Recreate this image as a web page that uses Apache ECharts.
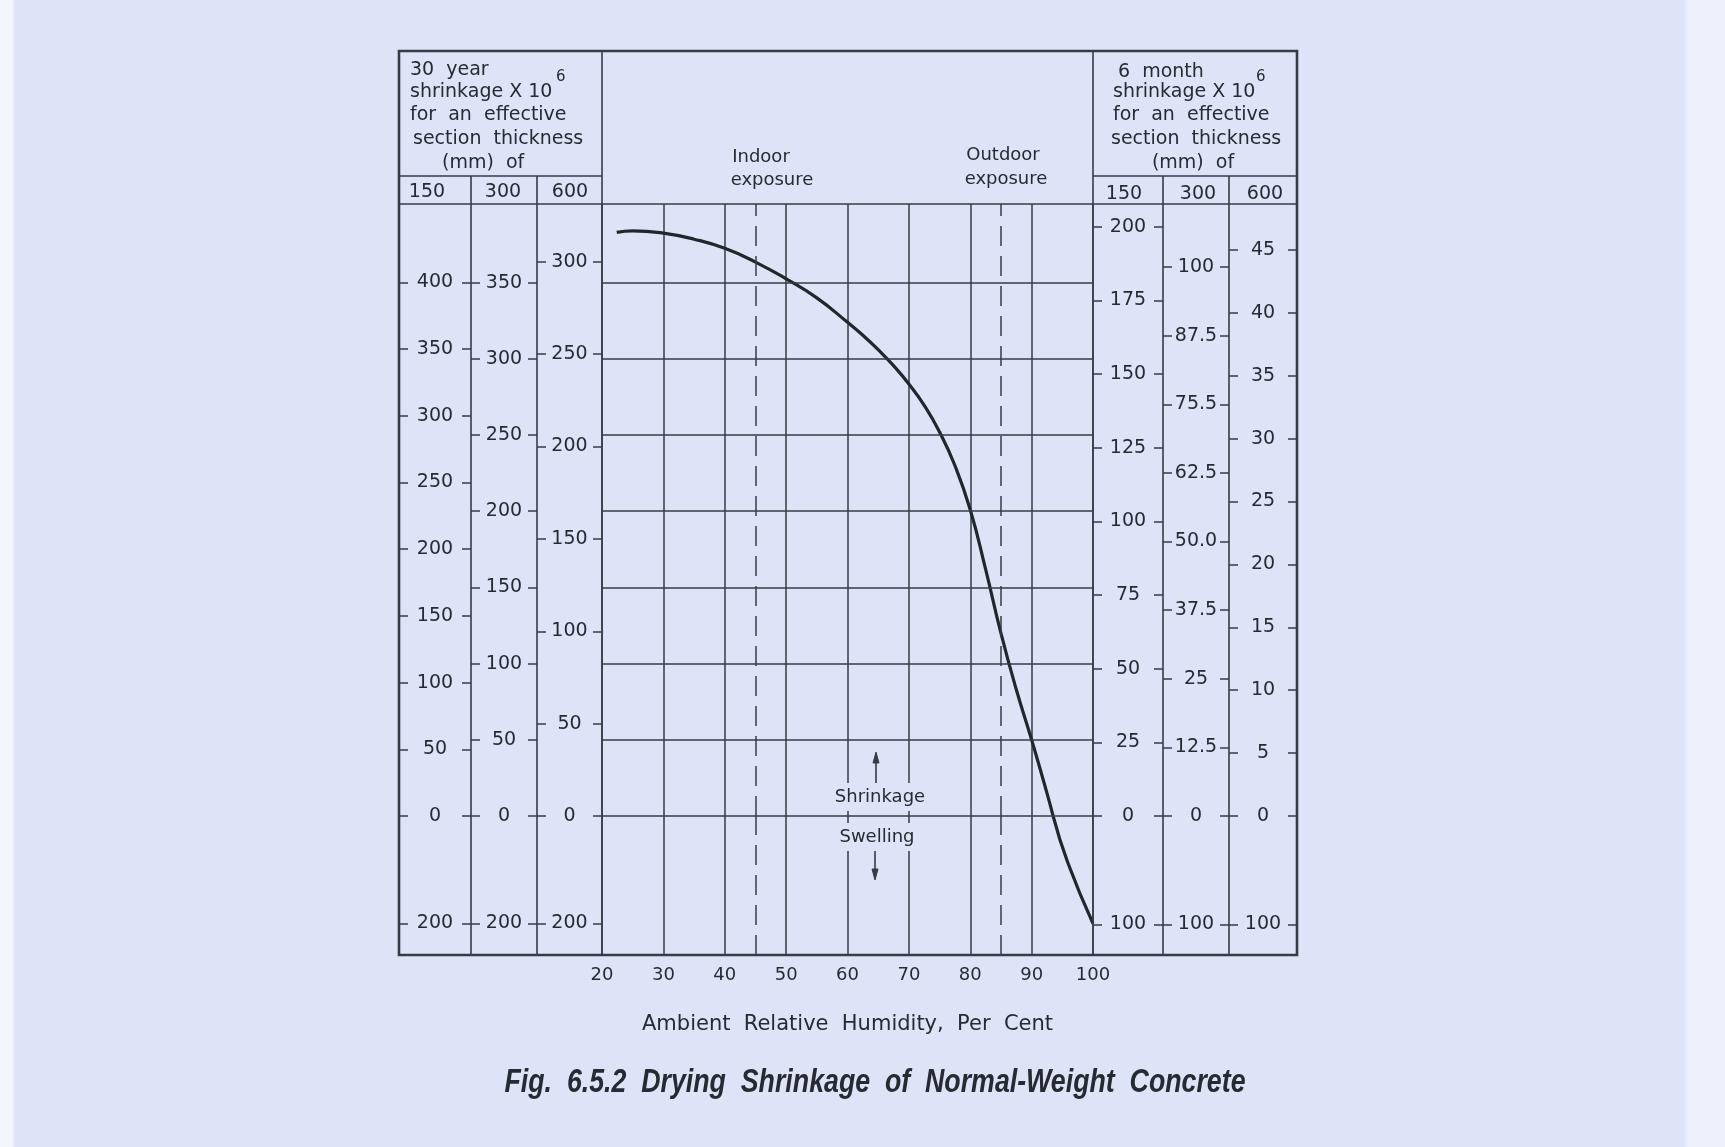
<!DOCTYPE html>
<html>
<head>
<meta charset="utf-8">
<script src="https://cdn.jsdelivr.net/npm/echarts@6/dist/echarts.min.js"></script>
<style>
html, body { margin: 0; padding: 0; }
body { background: linear-gradient(to right, #f3f5fc 0, #f3f5fc 12px, #dee4f7 15px, #dee4f7 1684px, #edf0fb 1688px); }
#main { width: 1725px; height: 1147px; }
</style>
</head>
<body>
<div id="main"></div>
<script>
// drying shrinkage curve (x10^-6, 30 year / 300 mm scale)
var humidity  = [22.4, 25, 30, 35, 40, 45, 50, 55, 60, 62.5, 65, 67.5, 70, 72.5, 75, 77.5, 80, 82.5, 85, 87.5, 90, 92.5, 93.5, 95.9, 100];
var shrinkage = [383, 384, 382.5, 378.5, 372.5, 363.5, 352.5, 340, 324, 315.5, 306, 295.5, 283.5, 269.5, 252, 230, 201, 162, 120, 83, 50, 15, 0, -87, -200];

var gridLevels = [0, 50, 100, 150, 200, 250, 300, 350];
var exposureLines = [45, 85];

// side scales
var year150Ticks  = [0, 50, 100, 150, 200, 250, 300, 350, 400];
var year300Ticks  = [0, 50, 100, 150, 200, 250, 300, 350];
var year600Ticks  = [0, 50, 100, 150, 200, 250, 300];
var month150Ticks = [0, 25, 50, 75, 100, 125, 150, 175, 200];
var month300Ticks = [0, 12.5, 25, 37.5, 50, 62.5, 75, 87.5, 100];
var month300Labels = ['0', '12.5', '25', '37.5', '50.0', '62.5', '75.5', '87.5', '100'];
var month600Ticks = [0, 5, 10, 15, 20, 25, 30, 35, 40, 45];
var yearSwell = -200;
var monthSwell = -100;

var INK = '#363c45';
var TXT = '#262b33';
var BG = '#dee4f7';
var FONT = 'DejaVu Sans';

// layout
var X0 = 399, X1 = 471, X2 = 537, P0 = 602, P1 = 1093, X4 = 1163, X5 = 1229, X6 = 1297;
var TOP = 51, HSEP = 176, HBOT = 204, ZERO = 816, BOT = 955;

var sideCols = [
  { l: X0, r: X1, ticks: year150Ticks,  labels: null, max: 458.8, swell: yearSwell,  swellMin: -258.6 },
  { l: X1, r: X2, ticks: year300Ticks,  labels: null, max: 401.6, swell: yearSwell,  swellMin: -258.6 },
  { l: X2, r: P0, ticks: year600Ticks,  labels: null, max: 331.3, swell: yearSwell,  swellMin: -258.6 },
  { l: P1, r: X4, ticks: month150Ticks, labels: null, max: 207.7, swell: monthSwell, swellMin: -128.1 },
  { l: X4, r: X5, ticks: month300Ticks, labels: month300Labels, max: 111.5, swell: monthSwell, swellMin: -128.1 },
  { l: X5, r: X6, ticks: month600Ticks, labels: null, max: 48.65, swell: monthSwell, swellMin: -128.1 }
];

var upper = [], lower = [];
for (var i = 0; i < humidity.length; i++) {
  if (shrinkage[i] >= 0) upper.push([humidity[i], shrinkage[i]]);
  if (shrinkage[i] <= 0) lower.push([humidity[i], shrinkage[i]]);
}

var grids = [], xAxes = [], yAxes = [];
function addGrid(l, t, w, h) {
  grids.push({ left: l, top: t, width: w, height: h, containLabel: false, outerBoundsMode: 'none' });
  return grids.length - 1;
}

// main plot: upper (shrinkage) and lower (swelling)
var gUp = addGrid(P0, HBOT, P1 - P0, ZERO - HBOT);
var gLo = addGrid(P0, ZERO, P1 - P0, BOT - ZERO);
var humAxis = {
  type: 'value', min: 20, max: 100, interval: 10,
  axisLine: { show: false }, axisTick: { show: false },
  splitLine: { show: true, lineStyle: { color: INK, width: 1.5 } }
};
xAxes.push(Object.assign({ gridIndex: gUp, axisLabel: { show: false } }, humAxis));
xAxes.push(Object.assign({
  gridIndex: gLo,
  axisLabel: { show: true, margin: 11, fontSize: 18, fontFamily: FONT, color: TXT },
  name: 'Ambient  Relative  Humidity,  Per  Cent', nameLocation: 'middle', nameGap: 59,
  nameTextStyle: { fontSize: 21, fontFamily: FONT, color: TXT }
}, humAxis));
yAxes.push({ gridIndex: gUp, type: 'value', min: 0, max: 401.6, show: false });
yAxes.push({ gridIndex: gLo, type: 'value', min: -258.6, max: 0, show: false });

// side columns
function sideAxis(grid, pos, min, max, ticks, withLabel, fmt, w) {
  return {
    gridIndex: grid, type: 'value', position: pos, min: min, max: max,
    axisLine: { show: false }, splitLine: { show: false },
    axisTick: { show: true, inside: true, length: 9, customValues: ticks, lineStyle: { color: INK, width: 1.5 } },
    axisLabel: {
      show: withLabel, inside: true, margin: w / 2, align: 'center', verticalAlign: 'middle',
      customValues: ticks, formatter: fmt, fontSize: 19, fontFamily: FONT, color: TXT
    }
  };
}
sideCols.forEach(function (c) {
  var w = c.r - c.l;
  var fmt = function (v) {
    if (c.labels) return c.labels[c.ticks.indexOf(v)];
    return String(Math.abs(v));
  };
  var gu = addGrid(c.l, HBOT, w, ZERO - HBOT);
  xAxes.push({ gridIndex: gu, type: 'value', min: 0, max: 1, show: false });
  yAxes.push(sideAxis(gu, 'left', 0, c.max, c.ticks, true, fmt, w));
  yAxes.push(sideAxis(gu, 'right', 0, c.max, c.ticks, false, fmt, w));
  var gl = addGrid(c.l, ZERO, w, BOT - ZERO);
  xAxes.push({ gridIndex: gl, type: 'value', min: 0, max: 1, show: false });
  var absFmt = function (v) { return String(Math.abs(v)); };
  yAxes.push(sideAxis(gl, 'left', c.swellMin, 0, [c.swell], true, absFmt, w));
  yAxes.push(sideAxis(gl, 'right', c.swellMin, 0, [c.swell], false, absFmt, w));
});

var dashStyle = { type: [20, 10], width: 1.5, color: INK };
function lineMarks(withLevels) {
  var d = [];
  if (withLevels) gridLevels.forEach(function (v) { d.push({ yAxis: v }); });
  exposureLines.forEach(function (x) { d.push({ xAxis: x, lineStyle: dashStyle }); });
  return {
    silent: true, symbol: ['none', 'none'], label: { show: false }, animation: false,
    lineStyle: { color: INK, width: 1.5, type: 'solid' }, data: d
  };
}

// frame and texts
function ln(x1, y1, x2, y2, w) {
  return { type: 'line', z: 20, shape: { x1: x1, y1: y1, x2: x2, y2: y2 }, style: { stroke: INK, lineWidth: w || 1.6 } };
}
function tx(x, y, s, opt) {
  opt = opt || {};
  return {
    type: 'text', z: 30, x: x, y: y,
    scaleX: opt.sx || 1,
    style: {
      text: s, fill: TXT, font: opt.font || ('19px "' + FONT + '"'),
      textAlign: opt.align || 'left', textVerticalAlign: 'middle',
      backgroundColor: opt.bg, padding: opt.pad
    }
  };
}

var caption = 'Fig.  6.5.2  Drying  Shrinkage  of  Normal-Weight  Concrete';
var capFont = 'italic bold 33px "Liberation Sans"';
var ctx = document.createElement('canvas').getContext('2d');
ctx.font = capFont;
var capScale = 741 / ctx.measureText(caption).width;

var graphics = [
  { type: 'rect', z: 20, shape: { x: X0, y: TOP, width: X6 - X0, height: BOT - TOP }, style: { fill: null, stroke: INK, lineWidth: 2.6 } },
  ln(X1, HSEP, X1, BOT), ln(X2, HSEP, X2, BOT),
  ln(X4, HSEP, X4, BOT), ln(X5, HSEP, X5, BOT),
  ln(P0, TOP, P0, BOT), ln(P1, TOP, P1, BOT),
  ln(X0, HSEP, P0, HSEP), ln(P1, HSEP, X6, HSEP),
  ln(X0, HBOT, X6, HBOT),

  tx(410, 70, '30  year'),
  tx(410, 92, 'shrinkage X 10'),
  tx(556, 77, '6', { font: '15px "' + FONT + '"' }),
  tx(410, 115, 'for  an  effective'),
  tx(413, 139, 'section  thickness'),
  tx(442, 163, '(mm)  of'),
  tx(427, 192, '150', { align: 'center' }),
  tx(503, 192, '300', { align: 'center' }),
  tx(570, 192, '600', { align: 'center' }),

  tx(1118, 72, '6  month'),
  tx(1113, 92, 'shrinkage X 10'),
  tx(1256, 77, '6', { font: '15px "' + FONT + '"' }),
  tx(1113, 115, 'for  an  effective'),
  tx(1111, 139, 'section  thickness'),
  tx(1193, 163, '(mm)  of', { align: 'center' }),
  tx(1124, 194, '150', { align: 'center' }),
  tx(1198, 194, '300', { align: 'center' }),
  tx(1265, 194, '600', { align: 'center' }),

  tx(761, 157, 'Indoor', { align: 'center', font: '18px "' + FONT + '"' }),
  tx(772, 180, 'exposure', { align: 'center', font: '18px "' + FONT + '"' }),
  tx(1003, 155, 'Outdoor', { align: 'center', font: '18px "' + FONT + '"' }),
  tx(1006, 179, 'exposure', { align: 'center', font: '18px "' + FONT + '"' }),

  tx(880, 797, 'Shrinkage', { align: 'center', font: '18px "' + FONT + '"', bg: BG, pad: [5, 3] }),
  tx(877, 837, 'Swelling', { align: 'center', font: '18px "' + FONT + '"', bg: BG, pad: [5, 3] }),
  ln(876, 754, 876, 783, 1.6),
  { type: 'polygon', z: 20, shape: { points: [[873, 763], [876, 752], [879, 763]] }, style: { stroke: INK, lineWidth: 1, fill: INK } },
  ln(875, 848, 875, 878, 1.6),
  { type: 'polygon', z: 20, shape: { points: [[872, 869], [875, 880], [878, 869]] }, style: { stroke: INK, lineWidth: 1, fill: INK } },

  tx(875, 1083, caption, { align: 'center', font: capFont, sx: capScale })
];

var chart = echarts.init(document.getElementById('main'), null, { renderer: 'canvas' });
chart.setOption({
  animation: false,
  backgroundColor: 'transparent',
  grid: grids,
  xAxis: xAxes,
  yAxis: yAxes,
  graphic: graphics,
  series: [
    {
      type: 'line', xAxisIndex: 0, yAxisIndex: 0, data: upper,
      smooth: 0.5, symbol: 'none',
      lineStyle: { color: '#22262d', width: 3.2 },
      markLine: lineMarks(true)
    },
    {
      type: 'line', xAxisIndex: 1, yAxisIndex: 1, data: lower,
      smooth: 0.5, symbol: 'none',
      lineStyle: { color: '#22262d', width: 3.2 },
      markLine: lineMarks(false)
    }
  ]
});
</script>
</body>
</html>
